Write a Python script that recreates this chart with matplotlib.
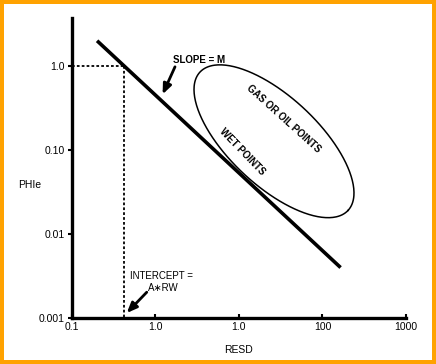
import numpy as np
import matplotlib
matplotlib.use("Agg")
import matplotlib.pyplot as plt
from matplotlib.patches import Rectangle

plt.rcParams['font.family'] = ['Liberation Sans', 'DejaVu Sans']

# data
x_ticks = [0.1, 1, 10, 100, 1000]
x_labels = ['0.1', '1.0', '1.0', '100', '1000']
y_ticks = [0.001, 0.01, 0.1, 1.0]
y_labels = ['0.001', '0.01', '0.10', '1.0']

wet_line_x = [0.2, 165]
wet_line_y = [2.0, 0.004]

intercept_x = 0.42
intercept_y = 1.0

# gas/oil cloud, in log10 units: centre, half-axes, tilt
cloud_center = (1.42, -0.895)
cloud_axes = (1.21, 0.53)
cloud_tilt = -42.8

fig = plt.figure(figsize=(4.36, 3.64), dpi=100)
fig.patch.set_facecolor('#ffa200')
fig.patches.append(Rectangle((4 / 436, 4 / 364), 1 - 8 / 436, 1 - 8 / 364,
                             transform=fig.transFigure, facecolor='white',
                             edgecolor='none', zorder=-1))
ax = fig.add_axes([0.165, 0.126, 0.766, 0.8245])
ax.patch.set_alpha(0)

ax.set_xscale('log')
ax.set_yscale('log')
ax.set_xlim(0.1, 1000)
ax.set_ylim(0.001, 3.73)

# wet points line
ax.plot(wet_line_x, wet_line_y, color='black', lw=2.6, solid_capstyle='butt')

# dotted guides to the intercept
ax.plot([0.1, intercept_x], [intercept_y, intercept_y], color='black', lw=1.3, ls=(0, (1.5, 1.2)))
ax.plot([intercept_x, intercept_x], [intercept_y, 0.001], color='black', lw=1.3, ls=(0, (1.5, 1.2)))

# ellipse for the hydrocarbon points
t = np.linspace(0, 2 * np.pi, 300)
th = np.deg2rad(cloud_tilt)
ex = cloud_axes[0] * np.cos(t)
ey = cloud_axes[1] * np.sin(t)
lx = cloud_center[0] + ex * np.cos(th) - ey * np.sin(th)
ly = cloud_center[1] + ex * np.sin(th) + ey * np.cos(th)
ax.plot(10 ** lx, 10 ** ly, color='black', lw=1.1)

fs = 7
arrow = dict(arrowstyle='-|>,head_width=0.25,head_length=0.6', color='black', lw=2)
ax.text(3.3, 1.18, 'SLOPE = M', fontsize=fs, fontweight='bold', ha='center', va='center')
ax.annotate('', xy=(1.18, 0.43), xytext=(1.77, 1.05), arrowprops=arrow)
ax.text(34, 0.234, 'GAS OR OIL POINTS', fontsize=fs, fontweight='bold', rotation=-42,
        ha='center', va='center')
ax.text(10.8, 0.0946, 'WET POINTS', fontsize=fs, fontweight='bold', rotation=-46,
        ha='center', va='center')
ax.text(1.18, 0.00316, 'INTERCEPT =', fontsize=fs, ha='center', va='center')
ax.text(1.24, 0.00228, 'A\u2217RW', fontsize=fs, ha='center', va='center')
ax.annotate('', xy=(0.43, 0.00109), xytext=(0.83, 0.00215), arrowprops=arrow)

for s in ['top', 'right']:
    ax.spines[s].set_visible(False)
for s in ['left', 'bottom']:
    ax.spines[s].set_linewidth(2.4)

ax.set_xticks(x_ticks)
ax.set_xticklabels(x_labels)
ax.set_yticks(y_ticks)
ax.set_yticklabels(y_labels)
ax.minorticks_off()
ax.tick_params(axis='x', direction='in', length=3, width=1.5, labelsize=7.5, pad=3)
ax.tick_params(axis='y', direction='out', length=3, width=1.5, labelsize=7.5, pad=2)

ax.set_xlabel('RESD', fontsize=7.5, labelpad=9)
ax.set_ylabel('PHIe', fontsize=7.5, rotation=0, va='center', ha='center')
ax.yaxis.set_label_coords(-0.126, 0.443)

fig.savefig('out.png', dpi=100)
